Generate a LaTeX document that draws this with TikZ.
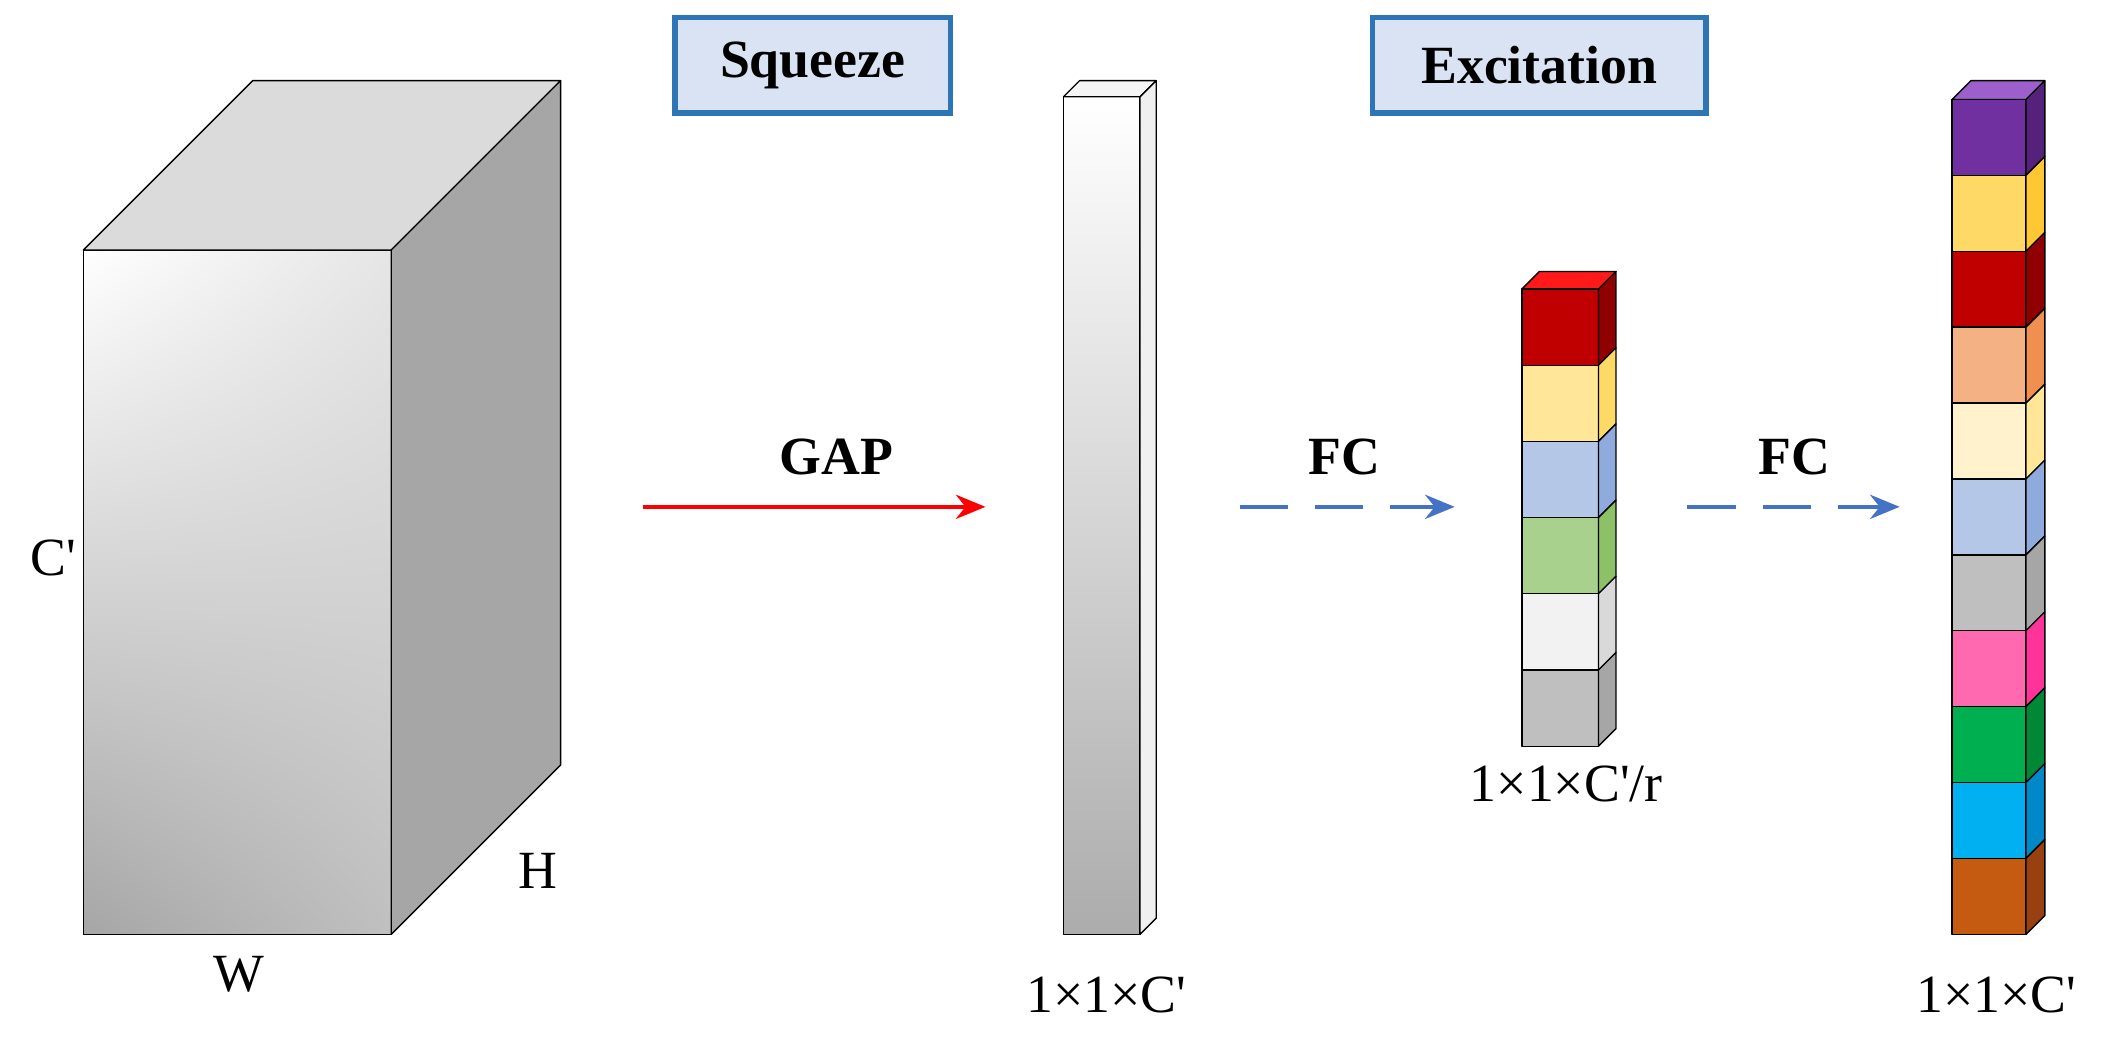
\documentclass[tikz,border=0pt]{standalone}
\usepackage{fontspec}
\setmainfont{Liberation Serif}
\usetikzlibrary{arrows.meta,shadings}
\definecolor{boxfill}{HTML}{DAE3F3}
\definecolor{boxline}{HTML}{2E75B6}
\definecolor{fcblue}{HTML}{4472C4}
\newcommand{\pr}{\textquotesingle}
\tikzset{
  lab/.style={font=\fontsize{20}{24}\selectfont},
  blab/.style={font=\fontsize{20}{24}\selectfont\bfseries},
  edge/.style={draw=black,line width=0.5pt,line join=round},
  arr/.style={line width=1.5pt,-{Stealth[length=11pt,width=9pt]}},
}
\newcommand{\cellc}[7]{% x y w h d front side
  \fill[#6,edge] (#1,#2) rectangle ++(#3,#4);
  \fill[#7,edge] (#1+#3,#2) -- ++(#5,-#5) -- ++(0,#4) -- ++(-#5,#5) -- cycle;}
\begin{document}
\begin{tikzpicture}[x=0.5pt,y=-0.5pt]
\useasboundingbox (0,0) rectangle (1568,776);
% big cube
\shade[upper left=white,upper right=white!80!gray,lower left=white!30!gray,lower right=white!50!gray] (62,186) rectangle (291,695);
\draw[edge] (62,186) rectangle (291,695);
\fill[gray!28,edge] (62,186) -- (188,60) -- (417,60) -- (291,186) -- cycle;
\fill[gray!70,edge] (291,186) -- (417,60) -- (417,569) -- (291,695) -- cycle;
\node[lab] (lc) at (40,415) {C\pr};
\node[lab] (lw) at (178,725) {W};
\node[lab] (lh) at (400,648) {H};
% titles
\path (502,13) coordinate (sq1) (707,84) coordinate (sq2);
\draw[boxline,line width=2pt,fill=boxfill] (sq1) rectangle (sq2);
\node[blab] (sq) at (604.5,48.5) {Squeeze};
\path (1021,13) coordinate (ex1) (1269,84) coordinate (ex2);
\draw[boxline,line width=2pt,fill=boxfill] (ex1) rectangle (ex2);
\node[blab] (ex) at (1145,48.5) {Excitation};
% column 1
\shade[top color=white,bottom color=white!35!gray] (791,72) rectangle (848,695);
\draw[edge] (791,72) rectangle (848,695);
\fill[gray!8,edge] (791,72) -- (803,60) -- (860,60) -- (848,72) -- cycle;
\fill[gray!12,edge] (848,72) -- (860,60) -- (860,683) -- (848,695) -- cycle;
\node[lab] (l1) at (823,740) {1×1×C\pr};
% arrows
\coordinate (g1) at (478,377); \coordinate (g2) at (733,377);
\draw[red,arr] (g1) -- (g2);
\node[blab] (gap) at (622,340) {GAP};
\coordinate (f1) at (922,377); \coordinate (f2) at (1082,377);
\draw[fcblue,arr,dash pattern=on 18pt off 10pt] (f1) -- (f2);
\node[blab] (fc1) at (1000,340) {FC};
\coordinate (h1) at (1255,377); \coordinate (h2) at (1413,377);
\draw[fcblue,arr,dash pattern=on 18pt off 10pt] (h1) -- (h2);
\node[blab] (fc2) at (1335,340) {FC};
% column 2
\fill[red!90!white,edge] (1132,215) -- (1145,202) -- (1202,202) -- (1189,215) -- cycle;
\foreach \i/\f/\s in {0/C00000/900000,1/FFE699/FFD966,2/B4C7E7/8FAADC,3/A9D18E/8CC168,4/F2F2F2/D9D9D9,5/BFBFBF/A6A6A6}{
  \definecolor{ff}{HTML}{\f}\definecolor{ss}{HTML}{\s}
  \cellc{1132}{215+56.67*\i}{57}{56.67}{13}{ff}{ss}}
\node[lab] (l2) at (1165,583) {1×1×C\pr/r};
% column 3
\definecolor{tp}{HTML}{9C5FCC}
\fill[tp,edge] (1452,74) -- (1466,60) -- (1521,60) -- (1507,74) -- cycle;
\foreach \i/\f/\s in {0/7030A0/55217A,1/FFD966/FFC832,2/C00000/900000,3/F4B183/F09050,4/FFF2CC/FFE699,5/B4C7E7/8FAADC,6/BFBFBF/A6A6A6,7/FF69B0/FF3399,8/00B050/008837,9/00B0F0/0088C8,10/C55A11/994010}{
  \definecolor{ff}{HTML}{\f}\definecolor{ss}{HTML}{\s}
  \cellc{1452}{74+56.45*\i}{55}{56.45}{14}{ff}{ss}}
\node[lab] (l3) at (1485,740) {1×1×C\pr};
\end{tikzpicture}
\end{document}
